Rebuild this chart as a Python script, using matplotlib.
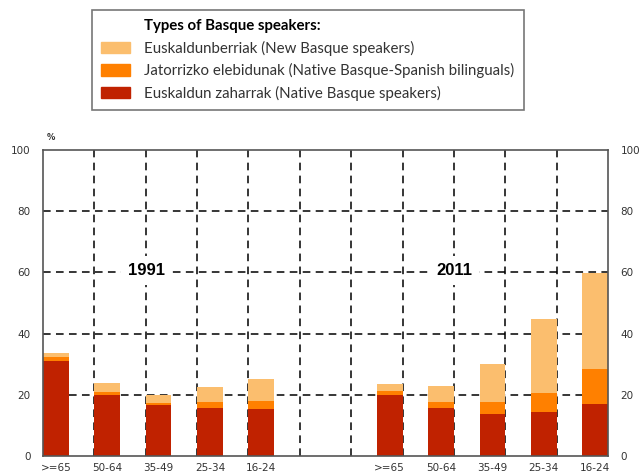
import numpy as np
import matplotlib
matplotlib.use("Agg")
import matplotlib.pyplot as plt
from matplotlib.patches import Patch


#----------------------------------------------------
# data
#----------------------------------------------------
age_groups = [">=65", "50-64", "35-49", "25-34", "16-24"]

old_1991 = [31.2, 20.0, 16.7, 15.7, 15.3]
native_1991 = [1.3, 1.0, 0.7, 1.9, 2.8]
new_1991 = [1.0, 2.7, 2.5, 5.1, 7.0]

old_2011 = [19.9, 15.6, 13.7, 14.5, 17.1]
native_2011 = [1.5, 1.9, 3.9, 6.2, 11.4]
new_2011 = [2.0, 5.5, 12.4, 24.0, 31.4]

series_labels = [
    "Euskaldunberriak (New Basque speakers)",
    "Jatorrizko elebidunak (Native Basque-Spanish bilinguals)",
    "Euskaldun zaharrak (Native Basque speakers)",
]
legend_title = "Types of Basque speakers:"

c_new = "#fbbe6e"
c_native = "#ff8000"
c_old = "#c02200"

#----------------------------------------------------
# figure
#----------------------------------------------------
fig = plt.figure(figsize=(6.39, 4.76), dpi=100)
ax = fig.add_axes([43 / 639, 20 / 476, 565 / 639, 306 / 476])

x91 = np.arange(5) + 0.25
x11 = np.arange(5) + 6.75
w = 0.5

for xs, old, nat, new in [(x91, old_1991, native_1991, new_1991),
                          (x11, old_2011, native_2011, new_2011)]:
    old = np.array(old)
    nat = np.array(nat)
    new = np.array(new)
    ax.bar(xs, old, w, color=c_old, zorder=2)
    ax.bar(xs, nat, w, bottom=old, color=c_native, zorder=2)
    ax.bar(xs, new, w, bottom=old + nat, color=c_new, zorder=2)

ax.set_xlim(0, 11)
ax.set_ylim(0, 100)
ax.set_xticks(np.concatenate([x91, x11]))
ax.set_xticklabels(age_groups + age_groups, fontsize=7.5, color="#333333")
ax.set_yticks([0, 20, 40, 60, 80, 100])
ax.tick_params(axis="both", length=0, labelsize=7.5, colors="#333333")
ax.tick_params(axis="y", right=True, labelright=True, pad=9)
ax.tick_params(axis="x", pad=5)

# dashed grid
for gx in range(1, 11):
    ax.axvline(gx, color="black", lw=1.1, ls=(0, (5, 3.5)), zorder=1)
for gy in [20, 40, 60, 80]:
    ax.axhline(gy, color="black", lw=1.1, ls=(0, (5, 3.5)), zorder=1)

for s in ax.spines.values():
    s.set_color("#555555")
    s.set_linewidth(1.2)

ax.text(2.02, 60.5, "1991", ha="center", va="center", fontsize=12,
        fontweight="bold", family="Liberation Sans", zorder=3,
        bbox=dict(facecolor="white", edgecolor="none", pad=5))
ax.text(8.0, 60.5, "2011", ha="center", va="center", fontsize=12,
        fontweight="bold", family="Liberation Sans", zorder=3,
        bbox=dict(facecolor="white", edgecolor="none", pad=5))

fig.text(47 / 639, 1 - 137 / 476, "%", fontsize=6, fontweight="bold",
         color="#333333", va="center")

#----------------------------------------------------
# legend
#----------------------------------------------------
handles = [Patch(visible=False),
           Patch(color=c_new), Patch(color=c_native), Patch(color=c_old)]
labels = [legend_title] + series_labels
leg = fig.legend(handles, labels, loc="upper left",
                 bbox_to_anchor=(92 / 639, 1 - 10 / 476),
                 prop={"family": "Lato", "size": 10.8},
                 frameon=True, fancybox=False, edgecolor="#555555",
                 handlelength=1.9, handleheight=0.8, handletextpad=1.0,
                 labelspacing=0.5, borderpad=0.6, borderaxespad=0,
                 labelcolor="#333333")
leg.get_frame().set_linewidth(1.2)
leg.get_texts()[0].set_fontweight("bold")
leg.get_texts()[0].set_color("black")

fig.savefig("out.png", dpi=100)
